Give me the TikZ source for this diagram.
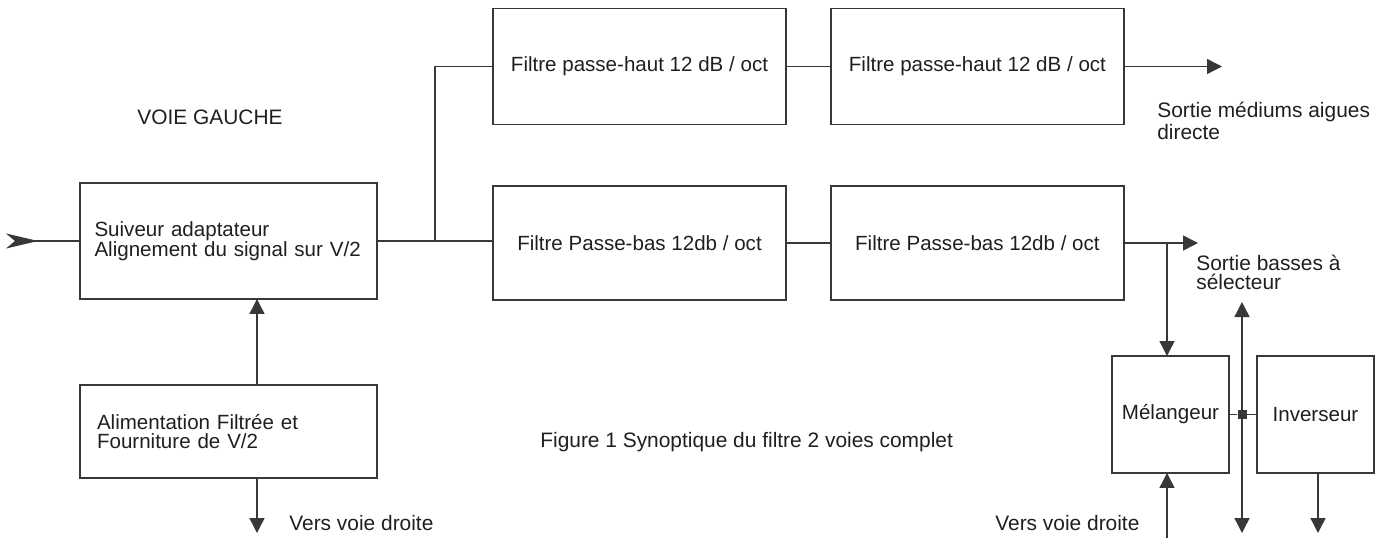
\documentclass[tikz,border=0pt]{standalone}
\usepackage{fontspec}
\setmainfont{Liberation Sans}
\usetikzlibrary{arrows.meta,positioning,calc}
\definecolor{ink}{HTML}{383838}
\tikzset{
	blockbox/.style={rectangle, draw=ink, line width=0.8pt, minimum width=5.86cm, minimum height=2.32cm,
		align=center, inner sep=0pt, outer sep=0pt, text=black!88, font=\fontsize{11.7}{11.2}\selectfont},
	leftbox/.style={blockbox, minimum width=5.94cm, text width=5.26cm, align=left},
	smallbox/.style={blockbox, minimum width=2.34cm, minimum height=2.34cm},
	sigline/.style={draw=ink, line width=0.8pt},
	sigarr/.style={sigline, -{Triangle[length=0.3cm, width=0.3cm]}},
	lbl/.style={anchor=base west, inner sep=0pt, align=left, text=black!88, font=\fontsize{11.9}{13.6}\selectfont}
}
\begin{document}
\begin{tikzpicture}[x=0.02cm, y=-0.02cm, node distance=0.9cm]
	\useasboundingbox (0,0) rectangle (1384,538);
	% blocs
	\node[leftbox, text width=5.36cm] (suiv) at (228.5,241) {Suiveur adaptateur\\Alignement du signal sur V/2};
	\node[leftbox, minimum height=1.86cm, below=1.72cm of suiv] (alim) {Alimentation Filtrée et\\Fourniture de V/2};
	\node[blockbox] (hp1) at (639.5,66.5) {Filtre passe-haut 12 dB / oct};
	\node[blockbox, right=of hp1] (hp2) {Filtre passe-haut 12 dB / oct};
	\node[blockbox, minimum height=2.28cm] (lp1) at (639.5,243) {Filtre Passe-bas 12db / oct};
	\node[blockbox, minimum height=2.28cm, right=of lp1] (lp2) {Filtre Passe-bas 12db / oct};
	\node[smallbox] (mel) at (1170.5,414.5) {Mélangeur};
	\node[smallbox, right=0.56cm of mel] (inv) {Inverseur};
	\node[fill=ink, minimum size=0.18cm, inner sep=0pt] (sq) at (1242,414.5) {};
	% points libres
	\coordinate (in) at (6,241);
	\coordinate (jn) at (435,241);
	\coordinate (hpout) at (1222,66.5);
	\coordinate (lpout) at (1198,243);
	\coordinate (seltop) at (1242,302);
	\coordinate (selbot) at (1242,533);
	\coordinate (alx) at (257,0);
	\coordinate (aldown) at (257,533);
	\coordinate (melin) at (1167,538);
	\coordinate (invout) at (1318,533);
	% liaisons
	\draw[sigline, {Stealth[length=0.64cm, width=0.3cm, inset=0.18cm, reversed]}-] (in) -- (suiv);
	\draw[sigline] (suiv) -- (jn) |- (hp1);
	\draw[sigline] (jn) -- (jn -| lp1.west);
	\draw[sigline] (hp1) -- (hp2);
	\draw[sigarr] (hp2) -- (hpout);
	\draw[sigline] (lp1) -- (lp2);
	\draw[sigarr] (lp2) -- (lpout);
	\draw[sigarr] (melin |- lp2.east) -- (mel.north -| melin);
	\draw[sigarr] (alim.north -| alx) -- (suiv.south -| alx);
	\draw[sigarr] (alim.south -| alx) -- (aldown);
	\draw[sigline, {Triangle[length=0.3cm, width=0.3cm]}-{Triangle[length=0.3cm, width=0.3cm]}] (seltop) -- (selbot);
	\draw[sigline] (mel) -- (sq) -- (inv);
	\draw[sigarr] (melin) -- (mel.south -| melin);
	\draw[sigarr] (inv.south -| invout) -- (invout);
	% textes
	\node[lbl] (gauche) at (137,124) {VOIE GAUCHE};
	\node[lbl, font=\fontsize{11.9}{12.5}\selectfont] (smed) at (1157,139) {Sortie médiums aigues\\directe};
	\node[lbl, font=\fontsize{11.9}{10.5}\selectfont] (sbas) at (1196,289) {Sortie basses à\\sélecteur};
	\node[lbl] (vdg) at (289,530) {Vers voie droite};
	\node[lbl] (vdd) at (995,530) {Vers voie droite};
	\node[lbl] (fig) at (540,447) {Figure 1 Synoptique du filtre 2 voies complet};
\end{tikzpicture}
\end{document}
